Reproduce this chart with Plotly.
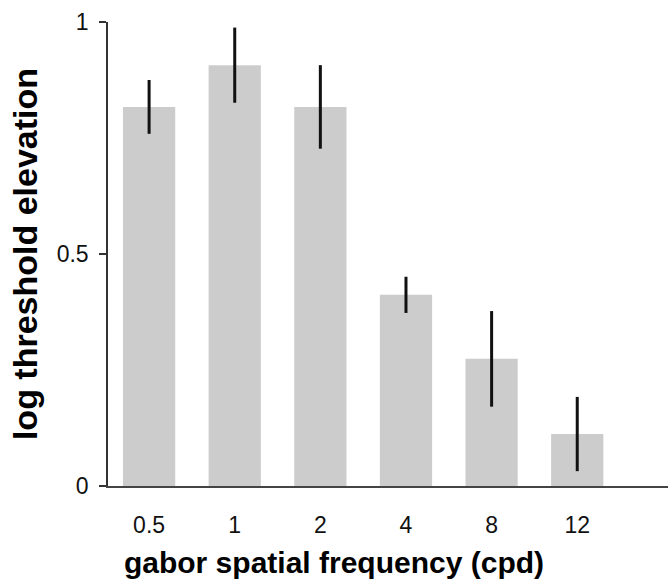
import plotly.graph_objects as go

categories = ["0.5", "1", "2", "4", "8", "12"]
values = [0.817, 0.907, 0.817, 0.412, 0.274, 0.112]
errors = [0.058, 0.081, 0.090, 0.039, 0.103, 0.080]

fig = go.Figure()
fig.add_trace(go.Bar(
    x=list(range(len(categories))), y=values,
    width=0.61,
    marker=dict(color="#cccccc", line=dict(width=0)),
    error_y=dict(type="data", array=errors, visible=True, color="#111111", thickness=3, width=0),
))

fig.update_layout(
    width=668, height=586,
    margin=dict(l=108, r=0, t=22, b=100),
    paper_bgcolor="white", plot_bgcolor="white",
    showlegend=False,
    font=dict(family="Liberation Sans, Arial, sans-serif", color="#111111"),
    title=dict(
        text="<b>gabor spatial frequency (cpd)</b>",
        font=dict(size=30, color="#000000"),
        xref="container", yref="container",
        x=0.5, xanchor="center", y=0.022, yanchor="bottom",
    ),
)
fig.update_xaxes(
    range=[-0.48, 6.06],
    tickmode="array", tickvals=list(range(len(categories))), ticktext=categories,
    showgrid=False, zeroline=False,
    showline=True, linecolor="#444444", linewidth=1.5,
    ticks="", tickfont=dict(size=23),
    ticklabelstandoff=18,
)
fig.update_yaxes(
    range=[0, 1],
    tickmode="array", tickvals=[0, 0.5, 1], ticktext=["0", "0.5", "1"],
    showgrid=False, zeroline=False,
    showline=True, linecolor="#333333", linewidth=1.5,
    ticks="outside", ticklen=7, tickwidth=1.5, tickcolor="#333333",
    tickfont=dict(size=23),
    ticklabelstandoff=6,
    title=dict(text="<b>log threshold elevation</b>", font=dict(size=34, color="#000000"), standoff=9),
)

fig.write_html("out.html")
